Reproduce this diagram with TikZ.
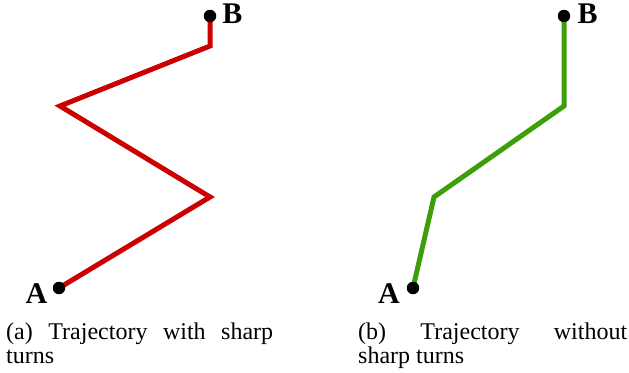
\documentclass[tikz,border=0pt]{standalone}
\usepackage{fontspec}
\setmainfont{Liberation Serif}
\definecolor{trajred}{RGB}{204,0,0}
\definecolor{trajgreen}{RGB}{60,158,8}
\begin{document}
\begin{tikzpicture}[x=1bp,y=-1bp,
  traj/.style={line width=5bp},
  dotpt/.style={circle,fill=black,inner sep=0pt,minimum size=12.5bp},
  ptlabel/.style={inner sep=0pt,anchor=base,font=\fontsize{30bp}{30bp}\selectfont\bfseries},
  capnode/.style={inner sep=0pt,anchor=base west,font=\fontsize{24bp}{24bp}\selectfont}]
\useasboundingbox (0,0) rectangle (629,372);
% left panel
\coordinate (la) at (59,288);
\coordinate (l1) at (210,197);
\coordinate (l2) at (60,106);
\coordinate (l3) at (210,46);
\coordinate (lb) at (210,16);
\draw[traj,trajred] (la) -- (l1) -- (l2) -- (l3) -- (lb);
\node[dotpt] (dla) at (la) {};
\node[dotpt] (dlb) at (lb) {};
\node[ptlabel] (tla) at (36.5,303) {A};
\node[ptlabel] (tlb) at (232.5,23) {B};
% right panel
\coordinate (ra) at (413,288);
\coordinate (r1) at (434,197);
\coordinate (r2) at (564,106);
\coordinate (rb) at (564,16);
\draw[traj,trajgreen] (ra) -- (r1) -- (r2) -- (rb);
\node[dotpt] (dra) at (ra) {};
\node[dotpt] (drb) at (rb) {};
\node[ptlabel] (tra) at (389,303) {A};
\node[ptlabel] (trb) at (587.5,23) {B};
% captions
\node[capnode] (capa) at (6,339) {\parbox[t]{267bp}{(a)\hfill Trajectory\hfill with\hfill sharp\\turns}};
\node[capnode] (capb) at (358,339) {\parbox[t]{269bp}{(b)\hfill Trajectory\hfill without\\sharp turns}};
\end{tikzpicture}
\end{document}
